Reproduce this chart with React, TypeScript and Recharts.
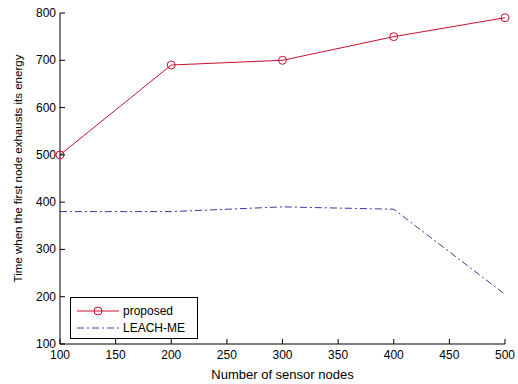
import React from 'react';
import { LineChart, Line, XAxis, YAxis } from 'recharts';

const nodes = [100, 200, 300, 400, 500];
const proposed = [500, 690, 700, 750, 790];
const leachMe = [380, 380, 390, 385, 205];
const xTicks = [100, 150, 200, 250, 300, 350, 400, 450, 500];
const yTicks = [100, 200, 300, 400, 500, 600, 700, 800];

const data = nodes.map((n, i) => ({ n, proposed: proposed[i], leach: leachMe[i] }));

const RED = '#c8102e';
const BLUE = '#3a3aa0';
const FONT = '"Liberation Sans", Arial, sans-serif';
const TICK = 5;

// ticks pointing into the plot box, like matlab
const BottomTick = ({ x, y, payload }: any) => (
  <g>
    <line x1={x} y1={y} x2={x} y2={y - TICK} stroke="#000" />
    <text x={x} y={y + 15} textAnchor="middle" fontSize={12} fontFamily={FONT} fill="#000">{payload.value}</text>
  </g>
);
const TopTick = ({ x, y }: any) => <line x1={x} y1={y} x2={x} y2={y + TICK} stroke="#000" />;
const LeftTick = ({ x, y, payload }: any) => (
  <g>
    <line x1={x} y1={y} x2={x + TICK} y2={y} stroke="#000" />
    <text x={x - 4} y={y + 4} textAnchor="end" fontSize={12} fontFamily={FONT} fill="#000">{payload.value}</text>
  </g>
);
const RightTick = ({ x, y }: any) => <line x1={x} y1={y} x2={x - TICK} y2={y} stroke="#000" />;

const LegendBox = () => (
  <div style={{ position: 'absolute', left: 70, top: 297, border: '1px solid #000', background: '#fff', width: 128, height: 42, fontFamily: FONT, fontSize: 12, boxSizing: 'border-box' }}>
    <svg width={126} height={40} style={{ display: 'block' }}>
      <line x1={6} y1={13} x2={48} y2={13} stroke={RED} />
      <circle cx={27} cy={13} r={4} fill="none" stroke={RED} />
      <text x={52} y={17} fontSize={12} fontFamily={FONT}>proposed</text>
      <line x1={6} y1={30} x2={48} y2={30} stroke={BLUE} strokeDasharray="7 3 2 3" />
      <text x={52} y={34} fontSize={12} fontFamily={FONT}>LEACH-ME</text>
    </svg>
  </div>
);

export default function App() {
  return (
    <div style={{ position: 'absolute', left: 0, top: 0, width: 518, height: 384, background: '#fff' }}>
      <LineChart width={518} height={384} data={data} margin={{ top: 13, right: 13, bottom: 0, left: 0 }}>
        <XAxis dataKey="n" type="number" domain={[100, 500]} ticks={xTicks} height={40}
          tickSize={0} tickMargin={0} tick={<BottomTick />} stroke="#000" interval={0}
          label={{ value: 'Number of sensor nodes', position: 'insideBottom', offset: 5, fontSize: 13, fontFamily: FONT, fill: '#000' }} />
        <XAxis xAxisId="top" orientation="top" dataKey="n" type="number" domain={[100, 500]} ticks={xTicks}
          height={0} tickSize={0} tickMargin={0} tick={<TopTick />} stroke="#000" interval={0} />
        <YAxis type="number" domain={[100, 800]} ticks={yTicks} width={60} tickSize={0} tickMargin={0}
          tick={<LeftTick />} stroke="#000" interval={0}
          label={{ value: 'Time when the first node exhausts its energy', angle: -90, position: 'insideLeft', offset: 18, dy: -10, style: { textAnchor: 'middle' }, fontSize: 11.5, fontFamily: FONT, fill: '#000' }} />
        <YAxis yAxisId="right" orientation="right" type="number" domain={[100, 800]} ticks={yTicks} width={0}
          tickSize={0} tickMargin={0} tick={<RightTick />} stroke="#000" interval={0} />
        <Line dataKey="proposed" stroke={RED} strokeWidth={1} isAnimationActive={false}
          dot={{ r: 4, fill: 'none', stroke: RED, strokeWidth: 1 }} />
        <Line dataKey="leach" stroke={BLUE} strokeWidth={1} strokeDasharray="7 3 2 3" dot={false} isAnimationActive={false} />
      </LineChart>
      <LegendBox />
    </div>
  );
}
